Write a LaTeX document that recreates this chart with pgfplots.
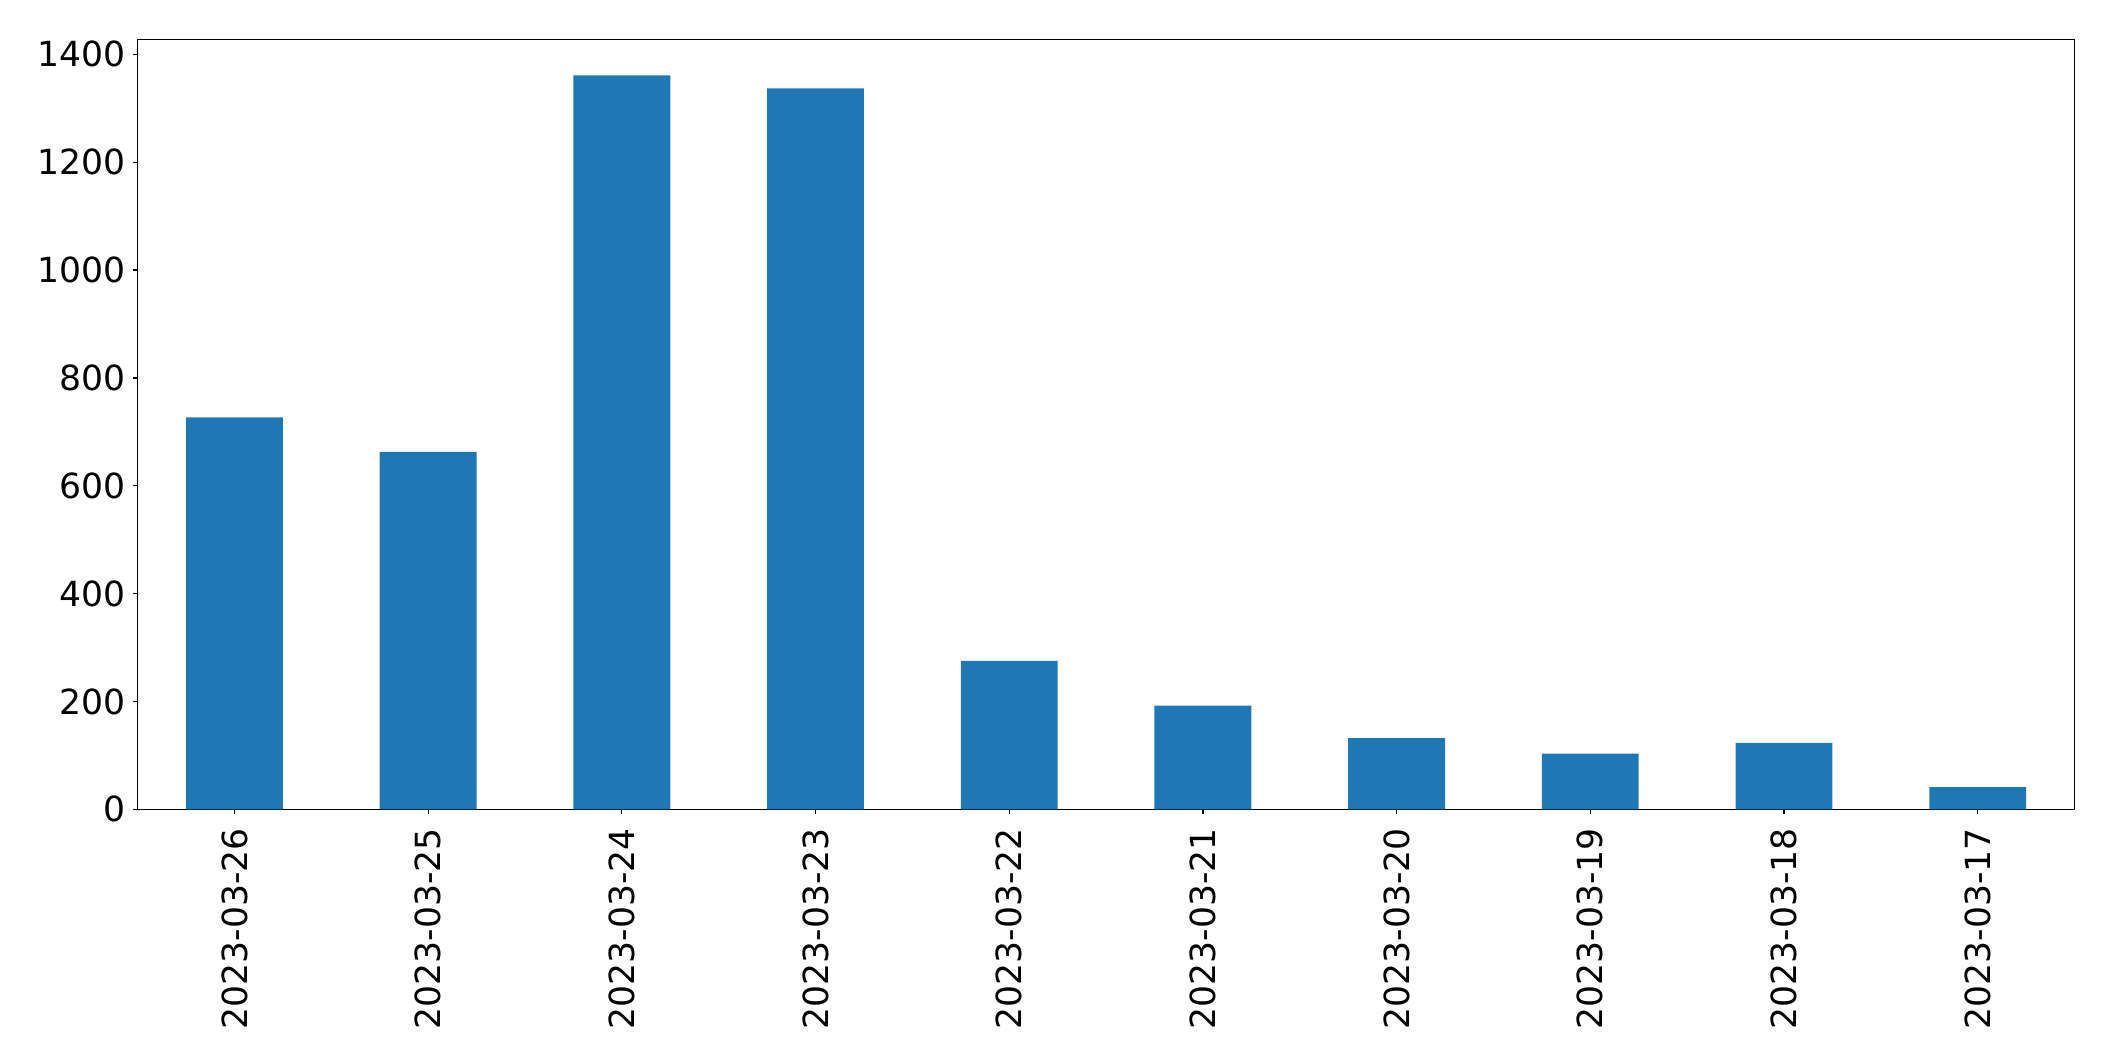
\documentclass[border=0pt]{standalone}
\usepackage{fontspec}
\setmainfont{DejaVu Sans}
\usepackage{pgfplots}
\pgfplotsset{compat=1.18}
\definecolor{tabblue}{HTML}{1F77B4}
\begin{document}
\begin{tikzpicture}
\begin{axis}[
  scale only axis,
  width=968.5pt, height=385pt,
  xmin=-0.5, xmax=9.5,
  ymin=0, ymax=1428,
  xtick={0,...,9},
  xticklabels={2023-03-26,2023-03-25,2023-03-24,2023-03-23,2023-03-22,2023-03-21,2023-03-20,2023-03-19,2023-03-18,2023-03-17},
  ytick={0,200,400,600,800,1000,1200,1400},
  xtick pos=bottom, ytick pos=left,
  tick align=outside,
  major tick length=2.5pt,
  tick style={black, line width=0.6pt},
  axis line style={line width=0.6pt},
  /pgf/number format/assume math mode=true,
  /pgf/number format/1000 sep={},
  ticklabel style={font=\fontsize{17.3}{20}\selectfont},
  xticklabel style={rotate=90, anchor=east, xshift=-3.5pt},
  yticklabel style={xshift=0pt},
]
\addplot[ybar, bar width=0.5, fill=tabblue, draw=none] coordinates {
  (0,727) (1,663) (2,1361) (3,1337) (4,275) (5,192) (6,132) (7,103) (8,123) (9,41)
};
\end{axis}
\path (current axis.south west) ++(-68.8pt,-125.8pt) coordinate (bl);
\path (current axis.north east) ++(20.25pt,19.65pt) coordinate (tr);
\path (bl) rectangle (tr);
\end{tikzpicture}
\end{document}
